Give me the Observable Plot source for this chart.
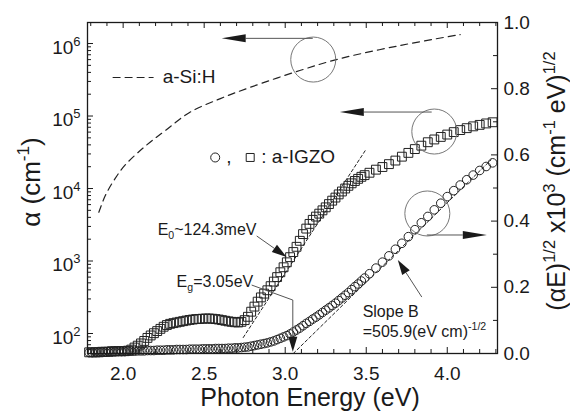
<!DOCTYPE html>
<html><head><meta charset="utf-8">
<script src="https://cdn.jsdelivr.net/npm/d3@7"></script>
<script src="https://cdn.jsdelivr.net/npm/@observablehq/plot@0.6"></script>
<style>
body{margin:0;background:#fff;}
#chart{width:570px;height:413px;}
text{white-space:pre;}
</style></head><body><div id="chart"></div>
<script>
const FONT = '"Liberation Sans", Arial, Helvetica, sans-serif';

// ---- data ----
// photon energy (eV) of the a-IGZO measurement points
const energy = [
  1.79,1.81,1.83,1.85,1.87,1.89,1.91,1.93,1.95,1.97,1.99,2.01,2.03,2.05,2.07,2.09,2.11,2.13,2.15,2.17,
  2.19,2.21,2.23,2.25,2.27,2.29,2.31,2.33,2.35,2.37,2.39,2.41,2.43,2.45,2.47,2.49,2.51,2.53,2.55,2.57,
  2.59,2.61,2.63,2.65,2.67,2.69,2.71,2.73,2.75,2.77,2.79,
  2.81,2.83,2.85,2.87,2.89,2.91,2.93,2.95,2.97,2.99,3.01,3.03,3.05,3.07,3.09,3.11,3.13,3.15,3.17,3.19,
  3.21,3.23,3.25,3.27,3.29,3.31,3.33,3.35,3.37,3.39,3.41,3.43,3.45,3.47,3.49,
  3.52,3.56,3.60,3.64,3.68,3.72,3.76,3.80,3.84,3.88,3.92,3.96,4.00,4.04,4.08,4.12,4.16,4.20,4.24,4.28
];
// absorption coefficient alpha (cm^-1), squares, left log axis
const alphaIGZO = [
  55,55,55,55,56,56,56,57,57,57,57,57,58,60,64,68,73,79,87,94,
  101,108,116,124,131,136,139,142,145,148,151,154,156,158,159,160,161,161,160,158,
  156,153,150,147,145,143,142,145,153,170,200,
  235,275,315,355,395,450,520,600,700,820,960,1130,1330,1570,1900,2350,2800,3250,3700,4100,
  4500,5000,5500,6100,6800,7500,8300,9100,10000,10900,11800,12700,13600,14500,15300,
  16500,18200,19800,21700,24300,27500,31000,35000,39000,43500,47500,51500,55500,60000,64000,68000,72000,75500,79000,82000
];
// (alpha E)^1/2 x10^3 (cm^-1 eV)^1/2, circles, right linear axis
const sqrtAlphaE = [
  .003,.003,.004,.004,.004,.004,.005,.005,.005,.006,.006,.006,.007,.007,.007,.008,.008,.008,.009,.009,
  .009,.010,.010,.010,.011,.011,.011,.012,.012,.012,.012,.013,.013,.013,.013,.014,.014,.014,.014,.015,
  .015,.015,.015,.016,.016,.017,.017,.018,.019,.020,.022,
  .024,.026,.028,.030,.032,.035,.038,.042,.046,.050,.054,.059,.065,.071,.077,.084,.091,.097,.104,.110,
  .117,.124,.131,.138,.145,.152,.160,.168,.176,.184,.193,.202,.210,.219,.228,
  .241,.258,.276,.295,.315,.333,.353,.374,.395,.414,.434,.454,.474,.492,.509,.525,.539,.553,.565,.576
];
// a-Si:H reference curve (dashed)
const energySiH = [1.85,1.89,1.95,2.01,2.14,2.26,2.41,2.60,2.78,3.09,3.34,3.71,4.08];
const alphaSiH  = [4700,8000,13700,20800,39000,63000,112000,174000,247000,424000,620000,940000,1330000];

// fitted lines
const urbachE = [2.741, 3.494], urbachAlpha = [88, 33400];   // E0 ~ 124.3 meV
const taucE = [3.05, 4.27], taucV = [0, 0.585];              // Eg = 3.05 eV, slope B

// axes ticks
const xTicks = [2.0, 2.5, 3.0, 3.5, 4.0];
const leftTicks = [1e2, 1e3, 1e4, 1e5, 1e6];
const rightTicks = [0.0, 0.2, 0.4, 0.6, 0.8, 1.0];

// ---- scales: left log axis, right linear axis mapped onto it ----
const yLo = 53, yHi = 1.95e6;
const lLo = Math.log10(yLo), lHi = Math.log10(yHi);
const toY = v => Math.pow(10, lLo + v * (lHi - lLo));

const squares = energy.map((e, i) => ({e, a: alphaIGZO[i]}));
const circles = energy.map((e, i) => ({e, a: toY(sqrtAlphaE[i])}));
const siH = energySiH.map((e, i) => ({e, a: alphaSiH[i]}));
const urbach = urbachE.map((e, i) => ({e, a: urbachAlpha[i]}));
const tauc = taucE.map((e, i) => ({e, a: toY(taucV[i])}));
const rightLabels = rightTicks.map(v => ({a: toY(v), text: v.toFixed(1)}));

// annotations (data coordinates)
const rings = [
  {e: 3.173, a: 6.01e5},
  {e: 3.920, a: 6.11e4},
  {e: 3.877, a: toY(0.423)}
];
const arrowList = [
  {pts: [[3.173, 1.16e6], [2.611, 1.16e6]], head: "long"},
  {pts: [[3.907, 1.117e5], [3.340, 1.117e5]], head: "long"},
  {pts: [[3.877, toY(0.3565)], [4.247, toY(0.3565)]], head: "long"},
  {pts: [[2.827, 2180], [3.012, 1117]], head: "short"},
  {pts: [[2.796, 459], [3.05, 285], [3.05, 55]], head: "short"},
  {pts: [[3.846, toY(0.169)], [3.698, toY(0.281)]], head: "short"}
];
const labels16 = [
  {e: 2.216, a: 2250, text: "E_{0}~124.3meV"},
  {e: 2.333, a: 431, text: "E_{g}=3.05eV"},
  {e: 3.481, a: toY(0.109), text: "Slope B"},
  {e: 3.481, a: toY(0.048), text: "=505.9(eV cm)^{-1/2}"}
];
const labels19 = [
  {e: 2.247, a: 2.8e5, text: "a-Si:H"},
  {e: 2.640, a: 22100, text: ","},
  {e: 2.855, a: 22100, text: ": a-IGZO"}
];
const legendLine = [{e: 1.938, a: 3.4e5}, {e: 2.185, a: 3.4e5}];
const legendCircle = [{e: 2.568, a: 26800}];
const legendSquare = [{e: 2.784, a: 26800}];

// ---- helpers ----
function fillRich(t, s, fs) {
  const re = /([_^])\{([^}]*)\}/g;
  let last = 0, m, shift = 0;
  const add = (str, kind) => {
    const sp = t.append("tspan").text(str);
    const target = kind === "sub" ? 0.28 * fs : kind === "sup" ? -0.42 * fs : 0;
    const dy = target - shift;
    if (dy) sp.attr("dy", dy);
    shift = target;
    if (kind) sp.attr("font-size", fs * 0.66);
  };
  while ((m = re.exec(s))) {
    if (m.index > last) add(s.slice(last, m.index), null);
    add(m[2], m[1] === "_" ? "sub" : "sup");
    last = re.lastIndex;
  }
  if (last < s.length) add(s.slice(last), null);
}
function richText(items, fs) {
  return (index, scales) => {
    const g = d3.create("svg:g").attr("font-family", FONT).attr("font-size", fs)
      .attr("fill", "#1a1a1a").attr("text-anchor", "start");
    for (const it of items) {
      const t = g.append("text").attr("x", scales.x(it.e)).attr("y", scales.y(it.a));
      fillRich(t, it.text, fs);
    }
    return g.node();
  };
}
function arrows(list) {
  return (index, scales) => {
    const g = d3.create("svg:g");
    for (const a of list) {
      const p = a.pts.map(([x, y]) => [scales.x(x), scales.y(y)]);
      const [tx, ty] = p[p.length - 1], [sx, sy] = p[p.length - 2];
      const len = Math.hypot(tx - sx, ty - sy), ux = (tx - sx) / len, uy = (ty - sy) / len;
      const L = a.head === "long" ? 24 : 15, w = a.head === "long" ? 4 : 4.5;
      const bx = tx - L * ux, by = ty - L * uy;
      g.append("path").attr("d", d3.line()([...p.slice(0, -1), [bx, by]]))
        .attr("fill", "none").attr("stroke", "#555").attr("stroke-width", 1);
      g.append("path").attr("d", `M${tx},${ty}L${bx - w * uy},${by + w * ux}L${bx + w * uy},${by - w * ux}Z`)
        .attr("fill", "#1a1a1a");
    }
    return g.node();
  };
}

const W = 410, H = 331;
const xMinor = d3.range(18, 44).map(d => d / 10).filter(d => !xTicks.some(t => Math.abs(t - d) < 1e-9));
const leftMinor = [];
for (let n = 1; n <= 6; n++) for (let k = 2; k <= 9; k++) { const v = k * Math.pow(10, n); if (v > yLo && v < yHi) leftMinor.push(v); }
const rightMinor = [0.1, 0.3, 0.5, 0.7, 0.9].map(toY);

const tickStyle = {stroke: "#1a1a1a", strokeWidth: 1};

const chart = Plot.plot({
  width: 570, height: 413,
  marginLeft: 87, marginRight: 73, marginTop: 22, marginBottom: 60,
  style: {fontFamily: FONT, fontSize: "19px", color: "#1a1a1a", background: "white", overflow: "visible"},
  x: {domain: [1.78, 4.31]},
  y: {type: "log", domain: [yLo, yHi]},
  marks: [
    // ticks (inward)
    Plot.tickX(xTicks, {x: d => d, insetTop: H - 6, ...tickStyle}),
    Plot.tickX(xMinor, {x: d => d, insetTop: H - 4, ...tickStyle}),
    Plot.tickX(xTicks, {x: d => d, insetBottom: H - 6, ...tickStyle}),
    Plot.tickX(xMinor, {x: d => d, insetBottom: H - 4, ...tickStyle}),
    Plot.tickY(leftTicks, {y: d => d, insetRight: W - 6, ...tickStyle}),
    Plot.tickY(leftMinor, {y: d => d, insetRight: W - 4, ...tickStyle}),
    Plot.tickY(rightTicks.map(toY), {y: d => d, insetLeft: W - 6, ...tickStyle}),
    Plot.tickY(rightMinor, {y: d => d, insetLeft: W - 4, ...tickStyle}),
    Plot.axisX({ticks: xTicks, tickFormat: d => d.toFixed(1), tickSize: 0, tickPadding: 13, label: null, fontSize: 19}),
    Plot.axisY({anchor: "left", ticks: leftTicks, tickFormat: d => "10^" + Math.round(Math.log10(d)), tickSize: 0, tickPadding: 7, label: null, fontSize: 19, dy: 4}),
    Plot.text(rightLabels, {y: "a", text: "text", frameAnchor: "right", dx: 6, textAnchor: "start", fontSize: 19, fill: "#1a1a1a"}),
    // fits
    Plot.line(urbach, {x: "e", y: "a", stroke: "#222", strokeWidth: 1, strokeDasharray: "3,2.5"}),
    Plot.line(tauc, {x: "e", y: "a", stroke: "#222", strokeWidth: 1, strokeDasharray: "3,2.5"}),
    // a-Si:H
    Plot.line(siH, {x: "e", y: "a", curve: "catmull-rom", stroke: "#222", strokeWidth: 1.2, strokeDasharray: "7,5"}),
    // a-IGZO
    Plot.dot(squares, {x: "e", y: "a", symbol: "square", r: 5, stroke: "#222", strokeWidth: 1, fill: "none"}),
    Plot.dot(circles, {x: "e", y: "a", symbol: "circle", r: 4.3, stroke: "#222", strokeWidth: 1, fill: "none"}),
    // annotations
    Plot.dot(rings, {x: "e", y: "a", r: 22.5, stroke: "#777", strokeWidth: 1, fill: "none"}),
    arrows(arrowList),
    richText(labels16, 16),
    richText(labels19, 19),
    Plot.line(legendLine, {x: "e", y: "a", stroke: "#222", strokeWidth: 1.2, strokeDasharray: "7,5"}),
    Plot.dot(legendCircle, {x: "e", y: "a", symbol: "circle", r: 4.5, stroke: "#222", strokeWidth: 1, fill: "none"}),
    Plot.dot(legendSquare, {x: "e", y: "a", symbol: "square", r: 4.5, stroke: "#222", strokeWidth: 1, fill: "none"}),
    Plot.frame({stroke: "#1a1a1a", strokeWidth: 1.3})
  ]
});

// superscripts for the log axis labels
d3.select(chart).selectAll("text").each(function () {
  const m = /^10\^(\d+)$/.exec(this.textContent);
  if (!m) return;
  const t = d3.select(this);
  t.text("");
  t.append("tspan").text("10");
  t.append("tspan").attr("dy", -8).attr("font-size", 13).text(m[1]);
});

// axis titles
const svg = d3.select(chart);
const tx = svg.append("text").attr("x", 310).attr("y", 406).attr("text-anchor", "middle")
  .attr("font-family", FONT).attr("font-size", 25).attr("fill", "#1a1a1a");
fillRich(tx, "Photon Energy (eV)", 25);
const tl = svg.append("text").attr("transform", "translate(40,182) rotate(-90)").attr("text-anchor", "middle")
  .attr("font-family", FONT).attr("font-size", 26).attr("fill", "#1a1a1a");
fillRich(tl, "\u03b1 (cm^{-1})", 26);
const tr = svg.append("text").attr("transform", "translate(565,181) rotate(-90)").attr("text-anchor", "middle")
  .attr("font-family", FONT).attr("font-size", 25).attr("fill", "#1a1a1a");
fillRich(tr, "(\u03b1E)^{1/2} x10^{3} (cm^{-1} eV)^{1/2}", 25);

document.getElementById("chart").appendChild(chart);
</script>
</body></html>
